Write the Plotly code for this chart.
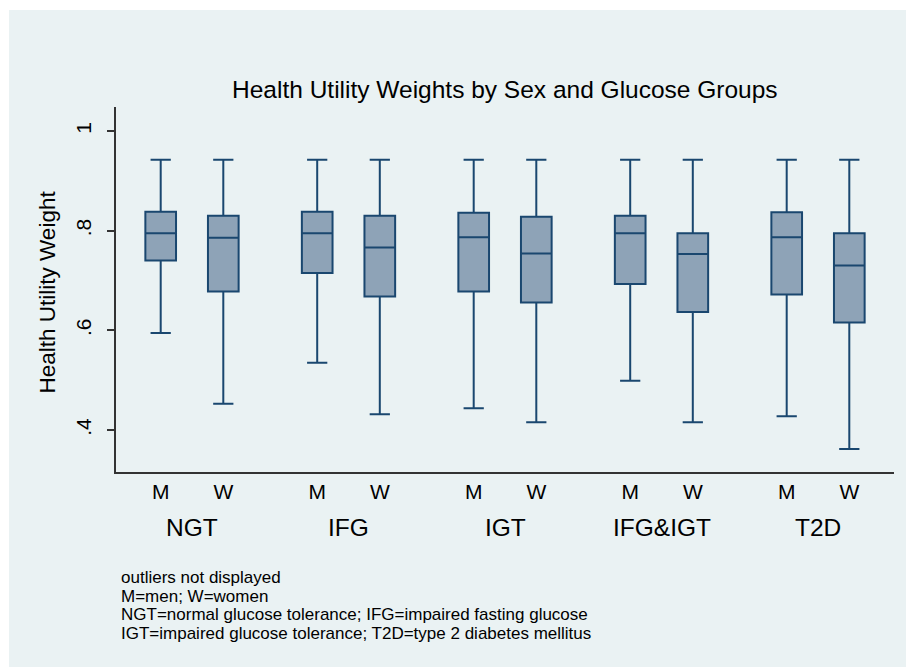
import plotly.graph_objects as go

# ---- data ----
groups = ["NGT", "IFG", "IGT", "IFG&IGT", "T2D"]
sexes = ["M", "W"]
# order: NGT-M, NGT-W, IFG-M, IFG-W, IGT-M, IGT-W, IFG&IGT-M, IFG&IGT-W, T2D-M, T2D-W
upper_whisker = [0.942, 0.942, 0.942, 0.942, 0.942, 0.942, 0.942, 0.942, 0.942, 0.942]
q3_values     = [0.838, 0.830, 0.838, 0.830, 0.836, 0.828, 0.830, 0.795, 0.837, 0.795]
medians       = [0.795, 0.786, 0.795, 0.766, 0.787, 0.754, 0.795, 0.753, 0.787, 0.730]
q1_values     = [0.740, 0.678, 0.715, 0.668, 0.678, 0.656, 0.693, 0.637, 0.672, 0.616]
lower_whisker = [0.595, 0.453, 0.535, 0.432, 0.444, 0.416, 0.499, 0.416, 0.428, 0.362]

y_tick_vals = [0.4, 0.6, 0.8, 1.0]
y_tick_text = [".4", ".6", ".8", "1"]

title_text = "Health Utility Weights by Sex and Glucose Groups"
y_title = "Health Utility Weight"
notes = [
    "outliers not displayed",
    "M=men; W=women",
    "NGT=normal glucose tolerance; IFG=impaired fasting glucose",
    "IGT=impaired glucose tolerance; T2D=type 2 diabetes mellitus",
]

# ---- layout geometry ----
W, H = 906, 667
ML, MR, MT, MB = 116, 12, 107, 195
PW, PH = W - ML - MR, H - MT - MB
GROUP_STEP = 2.5

positions = []
labels = []
for gi, g in enumerate(groups):
    for si, s in enumerate(sexes):
        positions.append(gi * GROUP_STEP + si)
        labels.append(s)

FONT = "Liberation Sans, Arial, Helvetica, sans-serif"
NAVY = "#1a476f"
FILL = "#8ea3b7"
BG = "#eaf2f3"

def px_x(px):
    return (px - ML) / PW

def px_y(py):
    return (H - MB - py) / PH

fig = go.Figure()
fig.add_trace(go.Box(
    x=positions,
    q1=q1_values,
    median=medians,
    q3=q3_values,
    lowerfence=lower_whisker,
    upperfence=upper_whisker,
    width=0.49,
    whiskerwidth=0.66,
    fillcolor=FILL,
    line=dict(color=NAVY, width=2),
    boxpoints=False,
    showlegend=False,
    hoverinfo="skip",
))

x_lo = -0.714
x_hi = (len(groups) - 1) * GROUP_STEP + 1 + 0.714

annotations = [
    dict(text=title_text, xref="paper", yref="paper", x=0.5, y=px_y(89),
         xanchor="center", yanchor="middle", showarrow=False,
         font=dict(family=FONT, size=24.5, color="black")),
    dict(text=y_title, xref="paper", yref="paper", x=px_x(46.5), y=px_y(292),
         xanchor="center", yanchor="middle", textangle=-90, showarrow=False,
         font=dict(family=FONT, size=22.5, color="black")),
]
for gi, g in enumerate(groups):
    annotations.append(dict(
        text=g, xref="x", yref="paper", x=gi * GROUP_STEP + 0.5, y=px_y(527),
        xanchor="center", yanchor="middle", showarrow=False,
        font=dict(family=FONT, size=24.5, color="black")))
note_y = [577.5, 596.0, 614.5, 633.0]
for t, yy in zip(notes, note_y):
    annotations.append(dict(
        text=t, xref="paper", yref="paper", x=px_x(119), y=px_y(yy),
        xanchor="left", yanchor="middle", showarrow=False,
        font=dict(family=FONT, size=17, color="black")))

fig.update_layout(
    width=W, height=H,
    margin=dict(l=ML, r=MR, t=MT, b=MB, pad=0),
    paper_bgcolor="white",
    plot_bgcolor="white",
    annotations=annotations,
    shapes=[dict(type="rect", xref="paper", yref="paper",
                 x0=px_x(9), x1=px_x(W + 2), y0=px_y(H + 2), y1=px_y(10),
                 fillcolor=BG, line=dict(width=0), layer="below")],
    xaxis=dict(
        range=[x_lo, x_hi],
        tickmode="array", tickvals=positions, ticktext=labels,
        ticks="", showgrid=False, zeroline=False,
        showline=True, linecolor="#333333", linewidth=1.5,
        tickfont=dict(family=FONT, size=21, color="black"),
        ticklabelstandoff=0,
    ),
    yaxis=dict(
        range=[0.316, 1.048],
        tickmode="array", tickvals=y_tick_vals, ticktext=y_tick_text,
        tickangle=-90,
        ticks="outside", ticklen=7, tickwidth=1.5, tickcolor="#333333",
        showgrid=True, gridcolor=BG, gridwidth=2,
        zeroline=False,
        showline=True, linecolor="#333333", linewidth=1.5,
        tickfont=dict(family=FONT, size=21, color="black"),
        ticklabelstandoff=8,
    ),
)

fig.write_html("out.html",
               config={"displayModeBar": False},
               post_script="document.body.style.margin='0';document.body.style.overflow='hidden';")
